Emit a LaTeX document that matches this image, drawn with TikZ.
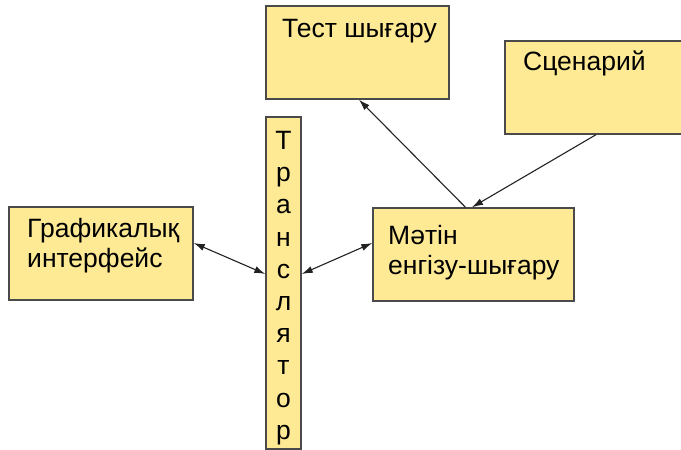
\documentclass[tikz,border=0pt]{standalone}
\usepackage{fontspec}
\setmainfont{Liberation Sans}
\usetikzlibrary{arrows.meta, positioning, calc}

\definecolor{boxfill}{HTML}{FEE995}
\definecolor{boxline}{HTML}{4A4A4A}
\definecolor{arrline}{HTML}{222222}

\tikzset{
  block/.style={draw=boxline, line width=1.4pt, fill=boxfill, inner sep=0pt},
  lbl/.style={inner sep=0pt, anchor=north west, align=left, font=\fontsize{26.5}{30}\selectfont},
  link/.style={draw=arrline, line width=1.1pt, -{Latex[length=11pt,width=7pt]}},
  biglink/.style={draw=arrline, line width=1.1pt, {Latex[length=11pt,width=7pt]}-{Latex[length=11pt,width=7pt]}}
}

\begin{document}
\begin{tikzpicture}[x=1pt, y=1pt]
% Frame of the picture
\clip (0,0) rectangle (681,450);
\fill[white] (0,0) rectangle (681,450);
% Boxes
\node[block, minimum width=183pt, minimum height=93pt] (test) at (357.5,397.5) {};
\node[block, minimum width=182pt, minimum height=93pt] (scen) at (596,362.5) {};
\node[block, minimum width=35pt, minimum height=332pt] (trans) at (283.5,167) {};
\node[block, minimum width=184pt, minimum height=93pt] (gui) at (101,196.5) {};
\node[block, minimum width=201pt, minimum height=93pt] (text) at (473.5,195.5) {};
% Texts inside the boxes
\node[lbl] (testlbl) at (282,431) {Тест шығару};
\node[lbl] (scenlbl) at (523,399) {Сценарий};
\node[lbl] (guilbl) at (27,232) {Графикалық\\интерфейс};
\node[lbl] (textlbl) at (388,225) {Мәтін\\енгізу-шығару};
\node[inner sep=0pt, anchor=north, align=center,
  font=\fontsize{26.5}{32.2}\selectfont] (translbl) at (283.5,319)
  {Т\\р\\а\\н\\с\\л\\я\\т\\о\\р};
% Connectors
\draw[biglink] ([yshift=10.5]gui.east) -- ([yshift=9]trans.west);
\draw[biglink] ([yshift=9]trans.east) -- ([yshift=11.5]text.west);
\draw[link] ([xshift=-8]text.north) -- ([xshift=1.5]test.south);
\draw[link] (scen.south) -- ([xshift=-1.5]text.north);
\end{tikzpicture}
\end{document}
